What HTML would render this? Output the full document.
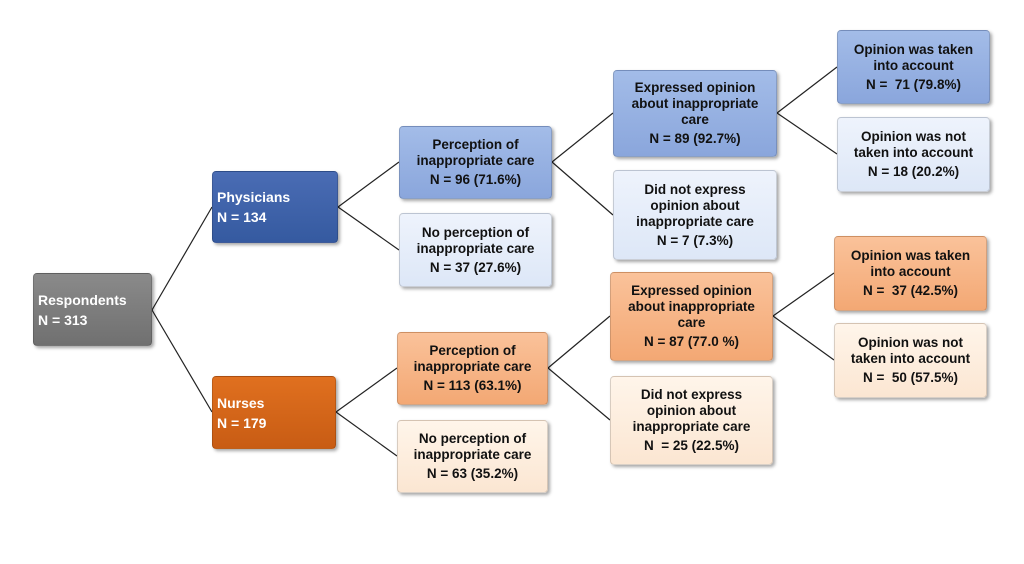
<!DOCTYPE html>
<html><head><meta charset="utf-8"><style>
body{margin:0;width:1024px;height:564px;background:#fff;position:relative;overflow:hidden;font-family:"Liberation Sans",Arial,sans-serif;}
.b{position:absolute;box-sizing:border-box;border-radius:4px;display:flex;flex-direction:column;justify-content:center;font-weight:bold;font-size:13.5px;line-height:16px;color:#111;text-align:center;box-shadow:2px 2px 3px rgba(0,0,0,0.35);border:1px solid rgba(0,0,0,0.15);}
.b .n{margin-top:3px}
.w{color:#fff;text-align:left;padding-left:4px;font-size:14px;line-height:20px}
.gray{background:linear-gradient(#8a8a8a,#707070)}
.db{background:linear-gradient(#4a6cb4,#355aa0)}
.or{background:linear-gradient(#e0701f,#c85c14)}
.mb{background:linear-gradient(#a3bce8,#8aa6dc)}
.lb{background:linear-gradient(#eef3fc,#dde7f7)}
.mo{background:linear-gradient(#fac29a,#f3a874)}
.lo{background:linear-gradient(#fff5ea,#fbe6d2)}
svg{position:absolute;left:0;top:0}
</style></head><body>
<svg width="1024" height="564">
<g stroke="#222" stroke-width="1.2">
<line x1="152" y1="310" x2="212" y2="207"/><line x1="152" y1="310" x2="212" y2="412"/>
<line x1="338" y1="207" x2="399" y2="162"/><line x1="338" y1="207" x2="399" y2="250"/>
<line x1="336" y1="412" x2="397" y2="368"/><line x1="336" y1="412" x2="397" y2="456"/>
<line x1="552" y1="162" x2="613" y2="113"/><line x1="552" y1="162" x2="613" y2="215"/>
<line x1="548" y1="368" x2="610" y2="316"/><line x1="548" y1="368" x2="610" y2="420"/>
<line x1="777" y1="113" x2="837" y2="67"/><line x1="777" y1="113" x2="837" y2="154"/>
<line x1="773" y1="316" x2="834" y2="273"/><line x1="773" y1="316" x2="834" y2="360"/>
</g></svg>
<div class="b w gray" style="left:33px;top:273px;width:119px;height:73px">Respondents<br>N = 313</div>
<div class="b w db" style="left:212px;top:171px;width:126px;height:72px">Physicians<br>N = 134</div>
<div class="b w or" style="left:212px;top:376px;width:124px;height:73px">Nurses<br>N = 179</div>
<div class="b mb" style="left:399px;top:126px;width:153px;height:73px"><div>Perception of<br>inappropriate care</div><div class="n">N = 96 (71.6%)</div></div>
<div class="b lb" style="left:399px;top:213px;width:153px;height:74px"><div>No perception of<br>inappropriate care</div><div class="n">N = 37 (27.6%)</div></div>
<div class="b mo" style="left:397px;top:332px;width:151px;height:73px"><div>Perception of<br>inappropriate care</div><div class="n">N = 113 (63.1%)</div></div>
<div class="b lo" style="left:397px;top:420px;width:151px;height:73px"><div>No perception of<br>inappropriate care</div><div class="n">N = 63 (35.2%)</div></div>
<div class="b mb" style="left:613px;top:70px;width:164px;height:87px"><div>Expressed opinion<br>about inappropriate<br>care</div><div class="n">N = 89 (92.7%)</div></div>
<div class="b lb" style="left:613px;top:170px;width:164px;height:90px"><div>Did not express<br>opinion about<br>inappropriate care</div><div class="n">N = 7 (7.3%)</div></div>
<div class="b mo" style="left:610px;top:272px;width:163px;height:89px"><div>Expressed opinion<br>about inappropriate<br>care</div><div class="n">N = 87 (77.0 %)</div></div>
<div class="b lo" style="left:610px;top:376px;width:163px;height:89px"><div>Did not express<br>opinion about<br>inappropriate care</div><div class="n">N &nbsp;= 25 (22.5%)</div></div>
<div class="b mb" style="left:837px;top:30px;width:153px;height:74px"><div>Opinion was taken<br>into account</div><div class="n">N = &nbsp;71 (79.8%)</div></div>
<div class="b lb" style="left:837px;top:117px;width:153px;height:75px"><div>Opinion was not<br>taken into account</div><div class="n">N = 18 (20.2%)</div></div>
<div class="b mo" style="left:834px;top:236px;width:153px;height:75px"><div>Opinion was taken<br>into account</div><div class="n">N = &nbsp;37 (42.5%)</div></div>
<div class="b lo" style="left:834px;top:323px;width:153px;height:75px"><div>Opinion was not<br>taken into account</div><div class="n">N = &nbsp;50 (57.5%)</div></div>
</body></html>
